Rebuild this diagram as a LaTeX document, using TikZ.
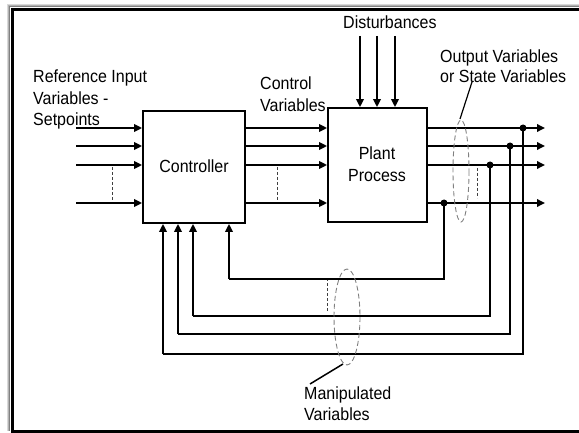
\documentclass[tikz,border=0pt]{standalone}
\usepackage{fontspec}
\setmainfont{Liberation Sans}
\usetikzlibrary{arrows.meta}
\begin{document}
\begin{tikzpicture}[x=1pt,y=-1pt,
  ln/.style={line width=1.8pt},
  arr/.style={ln,-{Triangle[length=8pt,width=7.5pt]}},
  blk/.style={draw,line width=1.8pt,inner sep=0pt},
  txt/.style={inner sep=0pt,font=\fontsize{16}{22}\selectfont,yscale=1.1,transform shape},
  dsh/.style={line width=0.9pt,dash pattern=on 3pt off 2pt,black!75},
  ell/.style={line width=0.9pt,dash pattern=on 5pt off 3pt,gray},
  dot/.style={circle,fill,inner sep=0pt,minimum size=7pt},
  frm/.style={line width=3pt}]
\useasboundingbox (0,0) rectangle (579,433);
% frame with shadow
\foreach \o/\c in {5/black!15,4/black!30,3/black!50} {
  \draw[line width=1pt,\c] (579,10-\o) -- (12-\o,10-\o) -- (12-\o,431);
}
\draw[frm] (579,10) -- (12,10) -- (12,431) -- (579,431);

% blocks
\node[blk,minimum width=102pt,minimum height=112pt] (ctrl) at (194,167) {};
\node[blk,minimum width=99pt,minimum height=114pt] (plant) at (377.5,165) {};
\node[txt,anchor=base] (ctrltxt) at (194,173) {Controller};
\node[txt,anchor=base] (planttxt1) at (377,160) {Plant};
\node[txt,anchor=base] (planttxt2) at (377,182) {Process};

% rows
\foreach \i/\y in {1/128,2/146,3/165,4/203} {
  \coordinate (in\i) at (76,\y);
  \coordinate (out\i) at (545,\y);
  \draw[arr] (in\i) -- (ctrl.west |- in\i);
  \draw[arr] (ctrl.east |- in\i) -- (plant.west |- in\i);
  \draw[arr] (plant.east |- in\i) -- (out\i);
}
% dashed "more" markers
\draw[dsh] (112,167) -- (112,200);
\draw[dsh] (277,167) -- (277,200);
\draw[dsh] (477,168) -- (477,198);
\draw[dsh] (327,278) -- (327,312);

% disturbances
\foreach \x in {360,377,395} {
  \coordinate (d\x) at (\x,36);
  \draw[arr] (d\x) -- (plant.north -| d\x);
}

% feedback
\foreach \i/\x/\yo/\y/\xb in {1/523/128/354/163,2/510/146/334/178,3/490/165/316/193,4/444/203/279/229} {
  \node[dot] (p\i) at (\x,\yo) {};
  \coordinate (c\i) at (\x,\y);
  \coordinate (e\i) at (\xb,\y);
  \draw[ln] (p\i.center) -- (c\i) -- (e\i);
  \draw[arr] (e\i) -- (ctrl.south -| e\i);
}

% ellipses
\draw[ell] (461,171) ellipse [x radius=8, y radius=51];
\draw[ell] (347,317) ellipse [x radius=13, y radius=48];
\coordinate (oetop) at (460,119);
\coordinate (metop) at (343,364);

% labels
\node[txt,anchor=base west] (ri1) at (33,83) {Reference Input};
\node[txt,anchor=base west] (ri2) at (33,105) {Variables -};
\node[txt,anchor=base west] (ri3) at (33,126) {Setpoints};
\node[txt,anchor=base west] (cv1) at (260,90) {Control};
\node[txt,anchor=base west] (cv2) at (260,112) {Variables};
\node[txt,anchor=base west] (dist) at (343,29) {Disturbances};
\node[txt,anchor=base west] (ov1) at (440,63) {Output Variables};
\node[txt,anchor=base west] (ov2) at (440,83) {or State Variables};
\node[txt,anchor=base west] (mv1) at (304,399) {Manipulated};
\node[txt,anchor=base west] (mv2) at (304,420) {Variables};
\coordinate (ovl) at (472,82);
\coordinate (mvl) at (310,384);
\draw[line width=1.2pt] (ovl) -- (oetop);
\draw[line width=1.5pt] (mvl) -- (metop);
\end{tikzpicture}
\end{document}
